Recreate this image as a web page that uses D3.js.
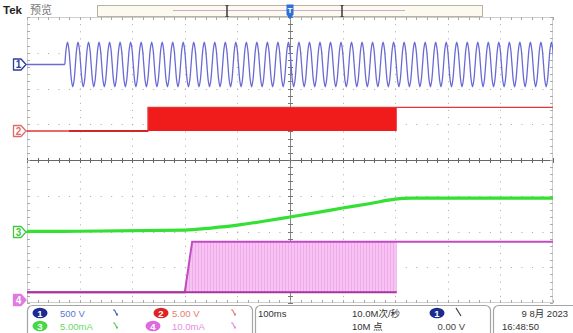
<!DOCTYPE html>
<html><head><meta charset="utf-8">
<script src="https://cdn.jsdelivr.net/npm/d3@7"></script>
<style>html,body{margin:0;padding:0;background:#fff;}svg{display:block;font-family:"Liberation Sans",Arial,sans-serif;}</style>
</head><body><svg id="c" width="573" height="333"></svg>
<script>
// ---------- DATA ----------
// time axis (ms), 100 ms/div, 10 divisions
const timeTicks = [-500,-400,-300,-200,-100,0,100,200,300,400,500];
// CH1: 500 V/div mains sine; cycle start times (ms) read from peaks, and one cycle shape (V)
const ch1CycleStarts = [-428,-408,-388,-368,-348,-328,-308,-288,-268,-248,-228,-208,-188,-168,-148,-128,-108,-88,-68,-48,-28,-8,12,32,52,72,92,112,132,152,172,192,212,232,252,272,292,312,332,352,372,392,412,432,452,472,492];
const ch1CycleShape = [0,220,311,220,0,-220,-311,-220];
// CH2: 5 V/div, PWM envelope (time ms, low V, high V)
const ch2Time = [-500,-270,-270,203,203,500];
const ch2Low  = [0,0,0,0,3.3,3.3];
const ch2High = [0,0,3.3,3.3,3.3,3.3];
const ch2NoiseSpan = [-420,-270];
// CH3: 5 mA/div current ramp
const ch3Time = [-500,-430,-200,-150,-100,-50,0,50,100,150,200,230,500];
const ch3Val  = [0.1,0.1,0.25,0.55,0.95,1.5,2.1,2.7,3.35,3.95,4.6,4.75,4.75];
// CH4: 10 mA/div, PWM envelope
const ch4Time = [-500,-200,-186,203,203,500];
const ch4Low  = [2.2,2.2,2.2,2.2,16.3,16.3];
const ch4High = [2.2,2.2,16.3,16.3,16.3,16.3];
// readouts
const chanScales = ["500 V","5.00 V","5.00mA","10.0mA"];
const timebase = "100ms";
const sampleRate = "10.0M次/秒";
const recordLen = "10M 点";
const trigLevel = "0.00 V";
const dateStr = "9 8月 2023";
const timeStr = "16:48:50";

// ---------- LAYOUT ----------
const svg = d3.select("#c");
const L=27, R=553, T=17, B=303, DIV=(B-T)/8, CY=(T+B)/2;
const x = d3.scaleLinear().domain([-500,500]).range([L,R]);
const chY = (ground, perDiv) => d3.scaleLinear().domain([0,perDiv]).range([ground, ground-DIV]);
const y1 = chY(64.5,500), y2 = chY(131,5), y3 = chY(232,5), y4 = chY(300,10);

svg.append("defs").append("clipPath").attr("id","gclip").append("rect")
  .attr("x",L).attr("y",T).attr("width",R-L).attr("height",B-T);
const pat = svg.select("defs").append("pattern").attr("id","stripes").attr("patternUnits","userSpaceOnUse")
  .attr("width",3).attr("height",10);
pat.append("rect").attr("width",3).attr("height",10).attr("fill","#f6c3f2");
pat.append("rect").attr("width",1).attr("height",10).attr("fill","#eeaaea");

// ---------- GRATICULE ----------
const g = svg.append("g");
g.append("rect").attr("x",L+0.5).attr("y",T+0.5).attr("width",R-L-1).attr("height",B-T-1)
  .attr("fill","none").attr("stroke","#cfcfcf");
timeTicks.slice(1,-1).forEach(t=>{ if(t!==0)
  g.append("line").attr("x1",Math.round(x(t))+0.5).attr("x2",Math.round(x(t))+0.5).attr("y1",T).attr("y2",B)
   .attr("stroke","#a8a8a8").attr("stroke-dasharray","1,"+(DIV/5-1).toFixed(2));});
d3.range(1,8).forEach(k=>{ if(k!==4){ const yy=Math.round(T+k*DIV)+0.5;
  g.append("line").attr("x1",L).attr("x2",R).attr("y1",yy).attr("y2",yy)
   .attr("stroke","#a8a8a8").attr("stroke-dasharray","1,"+((R-L)/50-1).toFixed(2));}});
// centre cross
g.append("line").attr("x1",L).attr("x2",R).attr("y1",Math.round(CY)+0.5).attr("y2",Math.round(CY)+0.5).attr("stroke","#666");
g.append("line").attr("x1",x(0)+0.5).attr("x2",x(0)+0.5).attr("y1",T).attr("y2",B).attr("stroke","#888");
// minor ticks
d3.range(0,51).forEach(i=>{ const xx=Math.round(L+i*(R-L)/50)+0.5;
  g.append("line").attr("x1",xx).attr("x2",xx).attr("y1",CY-2).attr("y2",CY+3).attr("stroke","#666");
  g.append("line").attr("x1",xx).attr("x2",xx).attr("y1",T).attr("y2",T+3).attr("stroke","#aaa");
  g.append("line").attr("x1",xx).attr("x2",xx).attr("y1",B-3).attr("y2",B).attr("stroke","#aaa");});
d3.range(0,41).forEach(i=>{ const yy=Math.round(T+i*DIV/5)+0.5;
  g.append("line").attr("x1",x(0)-2).attr("x2",x(0)+3).attr("y1",yy).attr("y2",yy).attr("stroke","#777");
  g.append("line").attr("x1",L).attr("x2",L+3).attr("y1",yy).attr("y2",yy).attr("stroke","#aaa");
  g.append("line").attr("x1",R-3).attr("x2",R).attr("y1",yy).attr("y2",yy).attr("stroke","#aaa");});

// ---------- TRACES ----------
const tr = svg.append("g").attr("clip-path","url(#gclip)");
// CH4 envelope
const area4 = d3.area().x((d,i)=>x(ch4Time[i])).y0((d,i)=>y4(ch4Low[i])).y1((d,i)=>y4(ch4High[i]));
tr.append("path").datum(ch4Time).attr("d",area4).attr("fill","url(#stripes)");
tr.append("path").datum(ch4Time).attr("d",d3.line().x((d,i)=>x(ch4Time[i])).y((d,i)=>y4(ch4High[i])))
  .attr("fill","none").attr("stroke","#c04cc0").attr("stroke-width",2);
tr.append("path").datum(ch4Time.slice(0,4)).attr("d",d3.line().x((d,i)=>x(ch4Time[i])).y((d,i)=>y4(ch4Low[i])))
  .attr("fill","none").attr("stroke","#a8349f").attr("stroke-width",2);
// CH3
tr.append("path").datum(ch3Time).attr("d",d3.line().x((d,i)=>x(ch3Time[i])).y((d,i)=>y3(ch3Val[i])).curve(d3.curveMonotoneX))
  .attr("fill","none").attr("stroke","#33e033").attr("stroke-width",3.2);
// CH2
const area2 = d3.area().x((d,i)=>x(ch2Time[i])).y0((d,i)=>y2(ch2Low[i])).y1((d,i)=>y2(ch2High[i]));
tr.append("path").datum(ch2Time).attr("d",area2).attr("fill","#f01c1c");
tr.append("path").datum(ch2Time).attr("d",d3.line().x((d,i)=>x(ch2Time[i])).y((d,i)=>y2(ch2High[i])))
  .attr("fill","none").attr("stroke","#e03838").attr("stroke-width",1.3);
tr.append("line").attr("x1",x(ch2NoiseSpan[0])).attr("x2",x(ch2NoiseSpan[1])).attr("y1",y2(0)).attr("y2",y2(0))
  .attr("stroke","#d02828").attr("stroke-width",2.2);
// CH1
const pts1 = [[-500,0]];
ch1CycleStarts.forEach((s,ci)=>{ const next = ci<ch1CycleStarts.length-1 ? ch1CycleStarts[ci+1] : s+(s-ch1CycleStarts[ci-1]);
  ch1CycleShape.forEach((v,k)=>pts1.push([s+(next-s)*k/ch1CycleShape.length, v])); });
pts1.push([ch1CycleStarts[ch1CycleStarts.length-1]*2-ch1CycleStarts[ch1CycleStarts.length-2],0]);
tr.append("path").datum(pts1.slice(0,1).concat([[ch1CycleStarts[0],0]]))
  .attr("d",d3.line().x(d=>x(d[0])).y(d=>y1(d[1]))).attr("fill","none").attr("stroke","#6a6ad4").attr("stroke-width",1.3);
tr.append("path").datum(pts1.slice(1)).attr("d",d3.line().x(d=>x(d[0])).y(d=>y1(d[1])).curve(d3.curveCatmullRom))
  .attr("fill","none").attr("stroke","#6a6ad4").attr("stroke-width",1.3);

// ---------- CHANNEL MARKERS ----------
function marker(yy, col, num, filled){
  const m = svg.append("g");
  m.append("path").attr("d",`M13.5,${yy-5.5} L21,${yy-5.5} L26,${yy} L21,${yy+5.5} L13.5,${yy+5.5} Z`)
   .attr("fill",filled?col:"#fff").attr("stroke",col).attr("stroke-width",1.3).attr("stroke-linejoin","round");
  m.append("text").attr("x",18.5).attr("y",yy+3.8).attr("text-anchor","middle").attr("font-size",10).attr("font-weight","bold")
   .attr("fill",filled?"#fff":col).text(num);
}
svg.append("line").attr("x1",26).attr("x2",L).attr("y1",y1(0)).attr("y2",y1(0)).attr("stroke","#6a6ad4");
svg.append("line").attr("x1",26).attr("x2",L).attr("y1",y2(0)).attr("y2",y2(0)).attr("stroke","#e03838");
svg.append("line").attr("x1",26).attr("x2",L).attr("y1",y3(0)).attr("y2",y3(0)).attr("stroke","#33e033").attr("stroke-width",2);
marker(y1(0),"#2b3b9b","1",false);
marker(y2(0),"#e36a6a","2",false);
marker(y3(0),"#40c840","3",false);
marker(y4(0),"#e07ae0","4",true);

// ---------- TOP BAR ----------
svg.append("text").attr("x",3).attr("y",14).attr("font-size",11.5).attr("font-weight","bold").attr("fill","#222").text("Tek");
svg.append("text").attr("x",30).attr("y",14).attr("font-size",11).attr("fill","#777")
  .attr("font-family","Noto Sans CJK SC").text("预览");
svg.append("rect").attr("x",97.5).attr("y",5.5).attr("width",385).attr("height",11).attr("fill","#fcf9ee").attr("stroke","#b9b2a4");
svg.append("line").attr("x1",173).attr("x2",405).attr("y1",10.5).attr("y2",10.5).attr("stroke","#cfa6dc");
[227,342].forEach(xx=>{
  svg.append("line").attr("x1",xx).attr("x2",xx).attr("y1",5).attr("y2",17).attr("stroke","#444").attr("stroke-width",1.6);
  svg.append("line").attr("x1",xx-1.5).attr("x2",xx+1.5).attr("y1",5.5).attr("y2",5.5).attr("stroke","#444");
  svg.append("line").attr("x1",xx-1.5).attr("x2",xx+1.5).attr("y1",16.5).attr("y2",16.5).attr("stroke","#444");
});
svg.append("path").attr("d",`M${x(0)-3.5},4.5 h7 v10 l-3.5,5 l-3.5,-5 Z`).attr("fill","#2e6fd8");
svg.append("text").attr("x",x(0)).attr("y",13).attr("text-anchor","middle").attr("font-size",8).attr("font-weight","bold").attr("fill","#fff").text("T");

// ---------- BOTTOM READOUT ----------
const box=(x0,w)=>svg.append("rect").attr("x",x0+0.5).attr("y",305.5).attr("width",w).attr("height",32).attr("rx",5)
  .attr("fill","#fff").attr("stroke","#a5a5a5").attr("stroke-width",1.2);
box(27,225); box(255,235); box(493,85);
function oval(cx,cy,col,num){
  svg.append("ellipse").attr("cx",cx).attr("cy",cy).attr("rx",7.5).attr("ry",5.3).attr("fill",col);
  svg.append("text").attr("x",cx).attr("y",cy+3.5).attr("text-anchor","middle").attr("font-size",9.5).attr("font-weight","bold").attr("fill","#fff").text(num);
}
function txt(xx,yy,s,col,anchor){
  return svg.append("text").attr("x",xx).attr("y",yy).attr("font-size",9.5).attr("fill",col).attr("text-anchor",anchor||"start")
    .attr("font-family","'Liberation Sans','Noto Sans CJK SC',sans-serif").text(s);
}
function squig(xx,yy,col){
  svg.append("path").attr("d",`M${xx},${yy-3} l1.5,0 l2,4 l1.5,0 M${xx+3},${yy+2} l2,0`).attr("fill","none").attr("stroke",col).attr("stroke-width",1.2);
}
const r1=316.5, r2=329.5;
oval(40,313,"#1b2b8f","1"); txt(60,r1,chanScales[0],"#5a78d2"); squig(113,313,"#4a5cb8");
oval(161,313,"#dc2424","2"); txt(172,r1,chanScales[1],"#e5806e"); squig(231,313,"#e07c7c");
oval(40,326,"#46d846","3"); txt(60,r2,chanScales[2],"#6ad86a"); squig(113,326,"#60c860");
oval(153,326,"#de6ade","4"); txt(172,r2,chanScales[3],"#e58ae2"); squig(231,326,"#e08ae0");
txt(258,r1,timebase,"#333");
txt(352,r1,sampleRate,"#333");
txt(352,r2,recordLen,"#333");
oval(437,313,"#1b2b8f","1");
svg.append("line").attr("x1",456).attr("x2",461).attr("y1",308).attr("y2",316).attr("stroke","#333").attr("stroke-width",1.1);
txt(465,r2,trigLevel,"#444","end");
txt(568,r1,dateStr,"#333","end");
txt(502,r2,timeStr,"#333");
</script></body></html>
